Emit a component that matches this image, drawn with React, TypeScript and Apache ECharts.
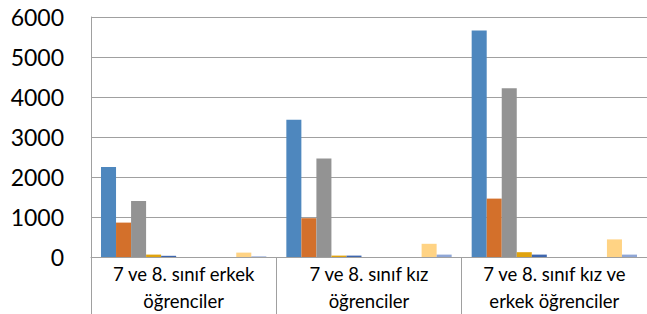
import React, { useEffect, useRef } from "react";
import * as echarts from "echarts";

const categories = [
  "7 ve 8. sınıf erkek\nöğrenciler",
  "7 ve 8. sınıf kız\nöğrenciler",
  "7 ve 8. sınıf kız ve\nerkek öğrenciler",
];

const seriesNames = [
  "Seri 1", "Seri 2", "Seri 3", "Seri 4", "Seri 5", "Seri 6",
  "Seri 7", "Seri 8", "Seri 9", "Seri 10", "Seri 11",
];

const seriesColors = [
  "#4E87BE", "#D3702B", "#939393", "#E0A30E", "#3E66AE", "#6A9F45",
  "#2A5C8C", "#8F4A1C", "#5E5E5E", "#FFD384", "#8FA6D6",
];

const s1 = [2250, 3430, 5660];
const s2 = [860, 970, 1460];
const s3 = [1400, 2460, 4220];
const s4 = [60, 35, 120];
const s5 = [30, 35, 60];
const s6 = [0, 0, 0];
const s7 = [0, 0, 0];
const s8 = [0, 0, 0];
const s9 = [0, 0, 0];
const s10 = [110, 330, 440];
const s11 = [15, 60, 60];

const seriesValues = [s1, s2, s3, s4, s5, s6, s7, s8, s9, s10, s11];

const yTicks = { min: 0, max: 6000, interval: 1000 };

export default function App() {
  const ref = useRef<HTMLDivElement>(null);
  useEffect(() => {
    if (!ref.current) return;
    const chart = echarts.init(ref.current, undefined, { renderer: "svg" });
    const axisGray = "#A0A0A0";
    chart.setOption({
      animation: false,
      backgroundColor: "#FFFFFF",
      grid: { left: 91, right: 0, top: 17, bottom: 57, containLabel: false },
      xAxis: {
        type: "category",
        data: categories,
        axisLine: { show: true, lineStyle: { color: axisGray, width: 1 } },
        axisTick: { show: true, length: 58, lineStyle: { color: axisGray, width: 1 } },
        axisLabel: {
          color: "#000000",
          fontFamily: "Lato",
          fontSize: 18.5,
          lineHeight: 27,
          margin: 3,
          interval: 0,
        },
      },
      yAxis: {
        type: "value",
        min: yTicks.min,
        max: yTicks.max,
        interval: yTicks.interval,
        axisLine: { show: true, lineStyle: { color: axisGray, width: 1 } },
        axisTick: { show: false },
        splitLine: { show: true, lineStyle: { color: axisGray, width: 1 } },
        axisLabel: {
          color: "#000000",
          fontFamily: "Lato",
          fontSize: 23,
          margin: 27,
          formatter: (v: number) => String(v),
        },
      },
      series: seriesNames.map((name, i) => ({
        name,
        type: "bar",
        data: seriesValues[i],
        barGap: "0%",
        barCategoryGap: "10.8%",
        itemStyle: { color: seriesColors[i] },
      })),
    });
    return () => chart.dispose();
  }, []);
  return (
    <div
      ref={ref}
      style={{ position: "fixed", left: 0, top: 0, width: 647, height: 314 }}
    />
  );
}
